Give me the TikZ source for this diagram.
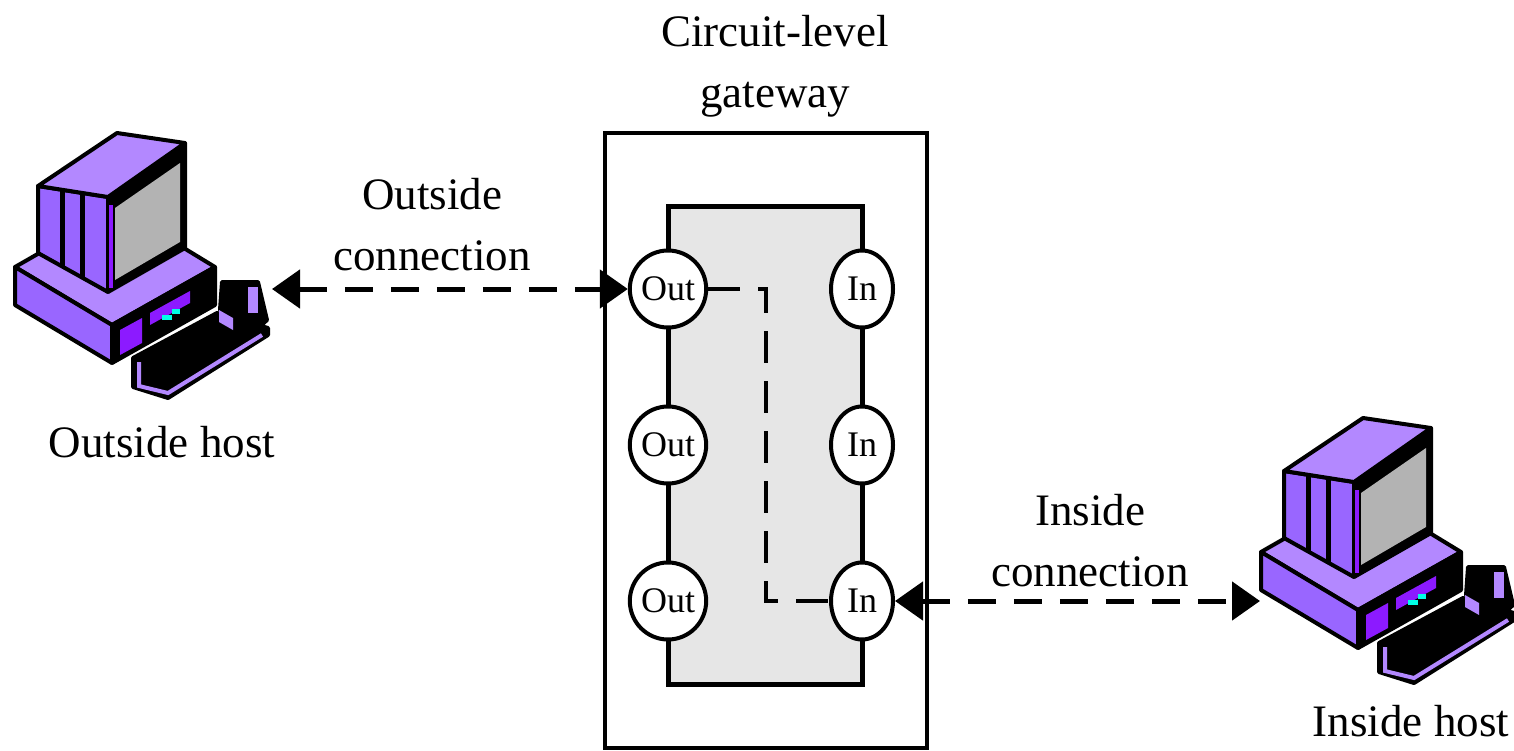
\documentclass[tikz,border=0pt]{standalone}
\usepackage{fontspec}
\setmainfont{Liberation Serif}
\usetikzlibrary{shapes.geometric,arrows.meta}

\definecolor{pclight}{RGB}{179,136,255}
\definecolor{pcmid}{RGB}{153,102,255}
\definecolor{pcviolet}{RGB}{140,26,255}
\definecolor{pcscreen}{RGB}{179,179,179}
\definecolor{pccyan}{RGB}{0,255,230}
\definecolor{gwgrey}{RGB}{230,230,230}

\tikzset{
  pcline/.style={line width=4pt,line join=round},
  pc/.pic={
    % base
    \draw[pcline,fill=pclight] (15,267) -- (118,208) -- (215,267) -- (112,325) -- cycle;
    \draw[pcline,fill=pcmid] (15,267) -- (112,325) -- (112,363) -- (15,305) -- cycle;
    \draw[pcline,fill=black] (112,325) -- (215,267) -- (215,305) -- (112,363) -- cycle;
    \fill[pcviolet] (120,330) -- (142,318) -- (142,343) -- (120,355) -- cycle;
    \fill[pcviolet] (150,313) -- (190,291) -- (190,303) -- (150,325) -- cycle;
    \fill[pccyan] (162,315) rectangle (172,320);
    \fill[pccyan] (172,309) rectangle (180,314);
    % monitor
    \draw[pcline,fill=pcmid] (38,186) -- (108,197) -- (108,292) -- (38,253) -- cycle;
    \draw[pcline,fill=black] (108,197) -- (185,143) -- (185,248) -- (108,292) -- cycle;
    \fill[pcscreen] (115,208) -- (180,163) -- (180,242) -- (115,280) -- cycle;
    \draw[pcline,fill=pclight] (117,133) -- (185,143) -- (108,197) -- (38,186) -- cycle;
    \draw[line width=5pt] (62,190) -- (62,266) (82,193) -- (82,278);
    \draw[line width=4pt,pcviolet] (111,205) -- (111,288);
    % keyboard and mouse
    \draw[pcline,fill=black] (133,358) -- (217,313) -- (268,328) -- (268,335) -- (168,398) -- (133,387) -- cycle;
    \draw[line width=4pt,pclight] (139,362) -- (139,386) -- (168,393) -- (262,335);
    \draw[pcline,fill=black] (222,282) -- (258,282) -- (267,320) -- (253,333) -- (233,327) -- (220,310) -- cycle;
    \fill[pclight] (248,287) rectangle (258,313);
    \fill[pclight] (219,310) -- (233,318) -- (233,330) -- (219,322) -- cycle;
  }
}

\begin{document}
\begin{tikzpicture}
  [x=1pt,y=-1pt,
   port/.style={ellipse,draw,line width=4pt,fill=white,minimum width=62pt,minimum height=77pt,inner sep=0pt,font=\fontsize{36}{40}\selectfont},
   lbl/.style={align=center,inner sep=0pt,font=\fontsize{45}{61}\selectfont},
   conn/.style={line width=5pt,dash pattern=on 28pt off 18pt,{Triangle[length=28pt,width=38pt]}-{Triangle[length=28pt,width=38pt]}},
   relay/.style={line width=4pt,dash pattern=on 32pt off 18pt}]
  \useasboundingbox (0,0) rectangle (1514,750);

  % hosts
  \pic at (0,0) {pc};
  \pic at (1246,285) {pc};
  \coordinate (ohost) at (272,289);
  \coordinate (ihost) at (1260,601);

  % gateway
  \node (gw) [draw,line width=4pt,minimum width=322pt,minimum height=615pt] at (766,440) {};
  \node (relaybox) [draw,fill=gwgrey,line width=5pt,minimum width=194pt,minimum height=478pt] at (765,445) {};
  \node (out1)[port] at (668,289) {Out};
  \node (out2)[port] at (668,445) {Out};
  \node (out3)[port] at (668,601) {Out};
  \node (in1)[port] at (862,289) {In};
  \node (in2)[port] at (862,445) {In};
  \node (in3)[port] at (862,601) {In};
  \coordinate (bend) at (766,289);

  % labels
  \node (gwlbl)[lbl] at (775,66) {Circuit-level\\gateway};
  \node (oclbl)[lbl] at (432,225) {Outside\\connection};
  \node (iclbl)[lbl] at (1090,541) {Inside\\connection};
  \node (ohlbl)[lbl] at (162,442) {Outside host};
  \node (ihlbl)[lbl] at (1411,721) {Inside host};

  \draw[conn] (ohost) -- (out1);
  \draw[conn] (in3) -- (ihost);
  \draw[relay] (out1.east) -- (bend) |- (in3.west);

\end{tikzpicture}
\end{document}
